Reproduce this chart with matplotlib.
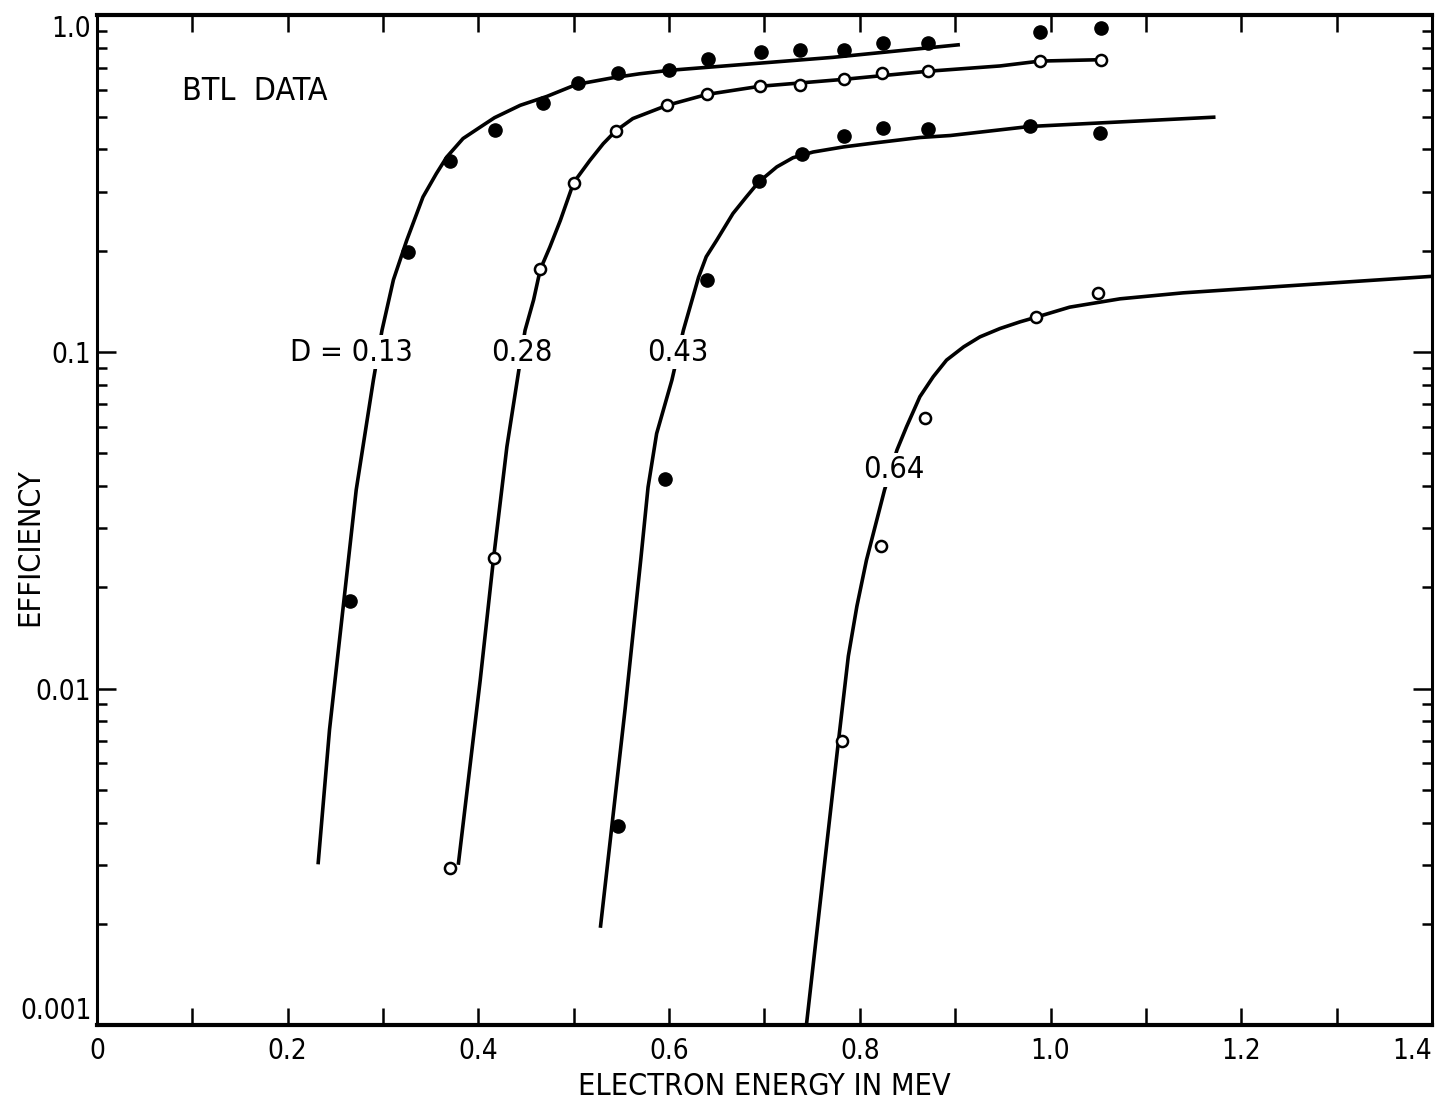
import matplotlib
matplotlib.use("Agg")
import matplotlib.pyplot as plt
import matplotlib.ticker as ticker

plt.rcParams["font.family"] = ["DejaVu Sans"]
plt.rcParams["font.stretch"] = "condensed"

d013_x = [0.266, 0.326, 0.370, 0.417, 0.468, 0.505, 0.547, 0.600, 0.641, 0.696, 0.737, 0.783, 0.824, 0.872, 0.989, 1.053]
d013_y = [0.0182, 0.198, 0.369, 0.456, 0.549, 0.630, 0.674, 0.691, 0.744, 0.778, 0.787, 0.791, 0.828, 0.828, 0.892, 0.919]

d028_x = [0.370, 0.416, 0.465, 0.500, 0.544, 0.598, 0.640, 0.695, 0.737, 0.783, 0.823, 0.872, 0.989, 1.053]
d028_y = [0.00294, 0.0244, 0.176, 0.319, 0.454, 0.541, 0.583, 0.616, 0.620, 0.646, 0.674, 0.683, 0.732, 0.739]

d043_x = [0.547, 0.596, 0.640, 0.694, 0.739, 0.783, 0.824, 0.872, 0.978, 1.052]
d043_y = [0.0039, 0.0419, 0.164, 0.322, 0.389, 0.438, 0.464, 0.461, 0.468, 0.447]

d064_x = [0.781, 0.822, 0.868, 0.985, 1.050]
d064_y = [0.00698, 0.0266, 0.0636, 0.127, 0.150]

# hand-drawn fit curves
fit013_x = [0.232, 0.244, 0.260, 0.272, 0.290, 0.299, 0.311, 0.325, 0.342, 0.356, 0.367, 0.384, 0.402,
            0.417, 0.444, 0.472, 0.503, 0.541, 0.569, 0.600, 0.772, 0.905]
fit013_y = [0.00301, 0.00756, 0.0193, 0.0390, 0.0826, 0.116, 0.164, 0.215, 0.289, 0.339, 0.380, 0.431, 0.466,
            0.497, 0.541, 0.575, 0.624, 0.653, 0.671, 0.687, 0.751, 0.819]

fit028_x = [0.379, 0.402, 0.416, 0.430, 0.449, 0.458, 0.465, 0.475, 0.486, 0.500, 0.517, 0.531, 0.544,
            0.562, 0.598, 0.640, 0.695, 0.783, 0.872, 0.947, 0.989, 1.053]
fit028_y = [0.0030, 0.0106, 0.0244, 0.0524, 0.116, 0.143, 0.176, 0.205, 0.246, 0.319, 0.371, 0.416, 0.454,
            0.494, 0.541, 0.583, 0.616, 0.646, 0.683, 0.708, 0.732, 0.739]

fit043_x = [0.528, 0.554, 0.5705, 0.578, 0.587, 0.603, 0.615, 0.631, 0.639, 0.650, 0.667, 0.681, 0.694,
            0.713, 0.730, 0.751, 0.783, 0.818, 0.863, 0.895, 0.978, 1.173]
fit043_y = [0.00195, 0.00874, 0.0244, 0.0397, 0.0573, 0.0826, 0.116, 0.167, 0.192, 0.215, 0.258, 0.289, 0.320,
            0.355, 0.378, 0.393, 0.407, 0.419, 0.434, 0.440, 0.468, 0.499]

fit064_x = [0.744, 0.762, 0.777, 0.788, 0.797, 0.807, 0.826, 0.839, 0.849, 0.863, 0.877, 0.891, 0.909,
            0.926, 0.947, 0.968, 0.985, 1.020, 1.073, 1.139, 1.244, 1.401]
fit064_y = [0.00100, 0.00284, 0.00674, 0.0125, 0.0176, 0.0241, 0.0390, 0.0512, 0.0600, 0.0737, 0.0845, 0.0947, 0.1037,
            0.111, 0.1175, 0.123, 0.127, 0.136, 0.144, 0.150, 0.157, 0.168]

curve_labels = ["D = 0.13", "0.28", "0.43", "0.64"]
label_x = [0.267, 0.446, 0.609, 0.836]
label_y = [0.100, 0.100, 0.100, 0.0447]

x_ticks = [0, 0.2, 0.4, 0.6, 0.8, 1.0, 1.2, 1.4]
x_tick_labels = ["0", "0.2", "0.4", "0.6", "0.8", "1.0", "1.2", "1.4"]
y_ticks = [0.001, 0.01, 0.1, 1.0]
y_tick_labels = ["0.001", "0.01", "0.1", "1.0"]

fig = plt.figure(figsize=(14.45, 11.05), dpi=100)
ax = fig.add_axes([0.067, 0.072, 0.924, 0.914])

# fit lines first, markers on top
for fx, fy in [(fit013_x, fit013_y), (fit028_x, fit028_y), (fit043_x, fit043_y), (fit064_x, fit064_y)]:
    ax.plot(fx, fy, color="black", lw=2.6, solid_capstyle="butt", solid_joinstyle="round", zorder=2)

ax.plot(d013_x, d013_y, "o", color="black", ms=9.5, zorder=3)
ax.plot(d043_x, d043_y, "o", color="black", ms=9.5, zorder=3)
ax.plot(d028_x, d028_y, "o", mfc="white", mec="black", mew=1.8, ms=8, zorder=3)
ax.plot(d064_x, d064_y, "o", mfc="white", mec="black", mew=1.8, ms=8, zorder=3)

# curve labels break the lines, like the hand-lettered original
for txt, lx, ly in zip(curve_labels, label_x, label_y):
    ax.text(lx, ly, txt, fontsize=22, ha="center", va="center", zorder=4,
            bbox=dict(facecolor="white", edgecolor="none", pad=2.0))

ax.text(0.166, 0.595, "BTL  DATA", fontsize=23, ha="center", va="center")

ax.set_yscale("log")
ax.set_xlim(0, 1.4)
ax.set_ylim(0.001, 1.0)

ax.xaxis.set_major_locator(ticker.FixedLocator(x_ticks))
ax.xaxis.set_major_formatter(ticker.FixedFormatter(x_tick_labels))
ax.xaxis.set_minor_locator(ticker.MultipleLocator(0.1))
ax.yaxis.set_major_locator(ticker.FixedLocator(y_ticks))
ax.yaxis.set_major_formatter(ticker.FixedFormatter(y_tick_labels))
ax.yaxis.set_minor_locator(ticker.LogLocator(base=10, subs=range(2, 10)))
ax.yaxis.set_minor_formatter(ticker.NullFormatter())

ax.tick_params(axis="x", which="both", direction="in", top=True, length=12, width=1.8,
               labelsize=20, pad=8)
ax.tick_params(axis="y", which="major", direction="in", right=True, length=14, width=1.8,
               labelsize=20, pad=4)
ax.tick_params(axis="y", which="minor", direction="in", right=True, length=7, width=1.8)

# end labels sit inside the frame corners, as in the original
fig.canvas.draw()
ax.get_xticklabels()[-1].set_ha("right")
ylabs = ax.get_yticklabels()
ylabs[0].set_va("bottom")
ylabs[-1].set_va("top")

for side in ["left", "right"]:
    ax.spines[side].set_linewidth(2.2)
for side in ["top", "bottom"]:
    ax.spines[side].set_linewidth(3.0)

ax.set_xlabel("ELECTRON ENERGY IN MEV", fontsize=22)
ax.xaxis.set_label_coords(0.5, -0.046)
ax.set_ylabel("EFFICIENCY", fontsize=22, va="center")
ax.yaxis.set_label_coords(-0.050, 0.474)

fig.savefig("out.png", dpi=100)
